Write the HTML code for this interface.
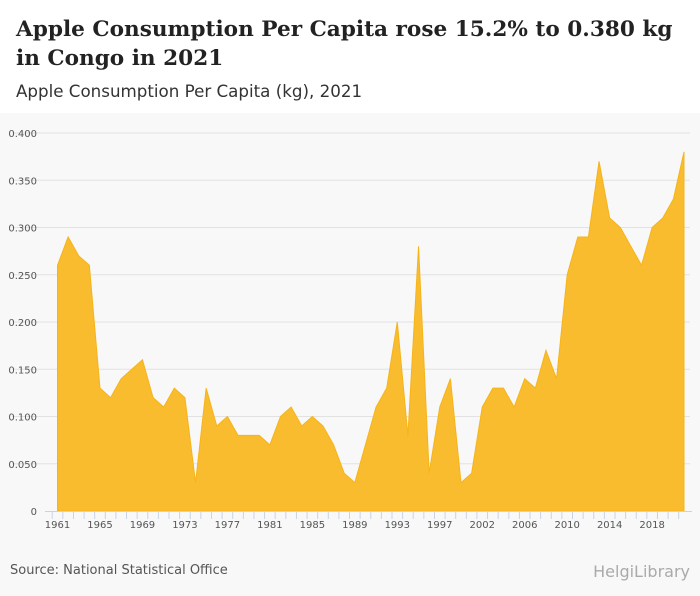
<!DOCTYPE html>
<html><head><meta charset="utf-8"><style>
body{margin:0;width:700px;height:596px;overflow:hidden;background:#f8f8f8;font-family:"DejaVu Sans",sans-serif}
#hdr{position:absolute;left:0;top:0;width:700px;height:113px;background:#fff}
#title{position:absolute;left:16px;top:15px;font:bold 21.6px "DejaVu Serif",serif;color:#222;line-height:29px;width:684px;white-space:nowrap}
#sub{position:absolute;left:16px;top:81px;font-size:16.7px;color:#333}
#src{position:absolute;left:10px;top:563px;font-size:13px;color:#555}
#logo{position:absolute;right:10px;top:562px;font-size:16px;color:#aaa}
svg{position:absolute;left:0;top:0}
</style></head><body>
<div id="hdr"></div>
<div id="title">Apple Consumption Per Capita rose 15.2% to 0.380 kg<br>in Congo in 2021</div>
<div id="sub">Apple Consumption Per Capita (kg), 2021</div>
<svg width="700" height="596" id="chart"></svg>
<div id="src">Source: National Statistical Office</div>
<div id="logo">HelgiLibrary</div>
<script>
const years=[1961,1962,1963,1964,1965,1966,1967,1968,1969,1970,1971,1972,1973,1974,1975,1976,1977,1978,1979,1980,1981,1982,1983,1984,1985,1986,1987,1988,1989,1990,1991,1992,1993,1994,1995,1996,1997,1998,1999,2001,2002,2003,2004,2005,2006,2007,2008,2009,2010,2011,2012,2013,2014,2015,2016,2017,2018,2019,2020,2021];
const values=[0.26,0.29,0.27,0.26,0.13,0.12,0.14,0.15,0.16,0.12,0.11,0.13,0.12,0.03,0.13,0.09,0.10,0.08,0.08,0.08,0.07,0.10,0.11,0.09,0.10,0.09,0.07,0.04,0.03,0.07,0.11,0.13,0.20,0.08,0.28,0.04,0.11,0.14,0.03,0.04,0.11,0.13,0.13,0.11,0.14,0.13,0.17,0.14,0.25,0.29,0.29,0.37,0.31,0.30,0.28,0.26,0.30,0.31,0.33,0.38];
const yTicks=[0,0.05,0.1,0.15,0.2,0.25,0.3,0.35,0.4];
const yLabels=["0","0.050","0.100","0.150","0.200","0.250","0.300","0.350","0.400"];
const NS="http://www.w3.org/2000/svg";
const svg=document.getElementById('chart');
const x0=57.5,x1=684,y0=511,y1=133;
const xs=i=>x0+(x1-x0)*i/(years.length-1);
const ys=v=>y0-(y0-y1)*v/0.4;
function mk(t,a){const e=document.createElementNS(NS,t);for(const k in a)e.setAttribute(k,a[k]);svg.appendChild(e);return e;}
yTicks.forEach((v,i)=>{
  if(i>0){const g=mk('line',{x1:12,x2:690,y1:ys(v),y2:ys(v),stroke:'#e2e2e2','stroke-width':1});
  
  }
  const t=mk('text',{x:37,y:ys(v)+4,'text-anchor':'end','font-size':10,fill:'#555','font-family':'DejaVu Sans, sans-serif'});
  t.textContent=yLabels[i];
  
  
});
let d='M'+xs(0)+','+y0;
values.forEach((v,i)=>{d+=' L'+xs(i)+','+ys(v);});
d+=' L'+xs(values.length-1)+','+y0+' Z';
const area=mk('path',{d:d,fill:'#f9bc2f',stroke:'#f5b41a','stroke-width':1});


const ax=mk('line',{x1:45,x2:692,y1:y0+0.5,y2:y0+0.5,stroke:'#c9d3e6','stroke-width':1});


years.forEach((yr,i)=>{
  const tk=mk('line',{x1:xs(i)-5.3,x2:xs(i)-5.3,y1:y0,y2:y0+8,stroke:'#c9d3e6'});
  
  
  if(i%4===0){
    const t=mk('text',{x:xs(i),y:y0+17,'text-anchor':'middle','font-size':10,fill:'#555','font-family':'DejaVu Sans, sans-serif'});
    t.textContent=yr;
    
    
  }
});
</script>
</body></html>
